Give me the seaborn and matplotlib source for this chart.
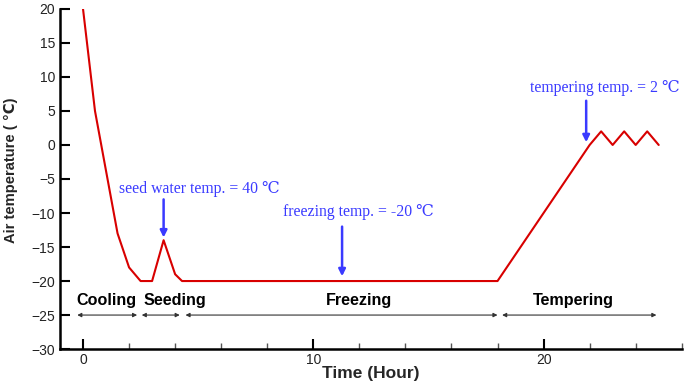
import matplotlib
matplotlib.use("Agg")
import matplotlib.pyplot as plt
import seaborn as sns
import pandas as pd
from matplotlib.ticker import MultipleLocator

# Data
time_h = [0, 0.52, 1.5, 2.0, 2.5, 3.0, 3.5, 4.0, 4.3, 18.0, 22.0, 22.5, 23.0, 23.5, 24.0, 24.5, 25.0]
air_temp = [20, 5, -13, -18, -20, -20, -14, -19, -20, -20, 0, 2, 0, 2, 0, 2, 0]

phase_names = ["Cooling", "Seeding", "Freezing", "Tempering"]
phase_start = [-0.25, 2.55, 4.45, 18.2]
phase_end = [2.35, 4.2, 18.0, 24.9]
phase_label_x = [1.0, 4.0, 12.0, 21.3]

note_texts = ["seed water temp. = 40 \u2103", "freezing temp. = -20 \u2103", "tempering temp. = 2 \u2103"]
note_text_x = [1.55, 8.7, 19.4]
note_text_y = [-6.5, -9.8, 8.4]
note_arrow_x = [3.5, 11.25, 21.85]
note_arrow_from = [-8, -12, 6.5]
note_arrow_to = [-13.6, -19.3, 0.4]

df = pd.DataFrame({"time": time_h, "temp": air_temp})

sns.set_style("white")
plt.rcParams["font.family"] = ["Liberation Sans", "DejaVu Sans"]

fig = plt.figure(figsize=(6.84, 3.87), dpi=100)
ax = fig.add_axes([0.0877, 0.098, 0.909, 0.879])

sns.lineplot(data=df, x="time", y="temp", ax=ax, color="#d80000", linewidth=1.5, sort=False)

ax.set_xlim(-1, 26)
ax.set_ylim(-30, 20)
ax.xaxis.set_major_locator(MultipleLocator(10))
ax.xaxis.set_minor_locator(MultipleLocator(2))
ax.yaxis.set_major_locator(MultipleLocator(5))

ax.tick_params(axis="both", which="major", direction="in", length=7, width=1.5,
               labelsize=10, color="black", labelcolor="#222222")
ax.tick_params(axis="x", which="minor", direction="in", length=4, width=1, color="#555555", bottom=True)
ax.tick_params(axis="y", left=True)
ax.tick_params(axis="x", bottom=True, pad=3)

for s in ["top", "right"]:
    ax.spines[s].set_visible(False)
for s in ["left", "bottom"]:
    ax.spines[s].set_linewidth(1.8)
    ax.spines[s].set_color("black")

ax.set_xlabel("Time (Hour)", fontsize=12.5, fontweight="bold", labelpad=-1)
ax.set_ylabel("Air temperature ( \u2103)", fontsize=10.6, fontweight="bold",
              family=["Liberation Sans", "DejaVu Sans"])
ax.yaxis.set_label_coords(-0.068, 0.526)

# phase arrows and labels
for name, x0, x1, xl in zip(phase_names, phase_start, phase_end, phase_label_x):
    ax.annotate("", xy=(x1, -25), xytext=(x0, -25),
                arrowprops=dict(arrowstyle="<|-|>", color="#333333", lw=0.8,
                                mutation_scale=6, shrinkA=0, shrinkB=0))
    ax.text(xl, -22.9, name, ha="center", va="center", fontsize=11.6, fontweight="bold", color="black")

# blue notes
blue = "#3a3aff"
for t, tx, ty, axx, y0, y1 in zip(note_texts, note_text_x, note_text_y, note_arrow_x, note_arrow_from, note_arrow_to):
    ax.text(tx, ty, t, ha="left", va="center", fontsize=11.3, color=blue,
            family=["Liberation Serif", "DejaVu Serif"])
    ax.annotate("", xy=(axx, y1), xytext=(axx, y0),
                arrowprops=dict(arrowstyle="-|>", color=blue, lw=1.8,
                                mutation_scale=10, shrinkA=0, shrinkB=0))

fig.savefig("out.png", dpi=100)
